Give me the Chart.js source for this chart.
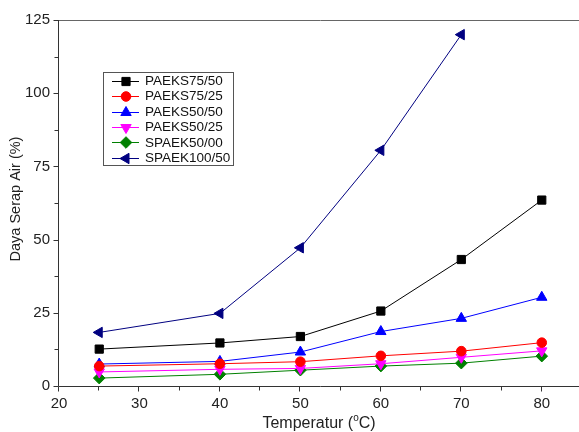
<!DOCTYPE html>
<html>
<head>
<meta charset="utf-8">
<script src="https://cdn.jsdelivr.net/npm/chart.js@4/dist/chart.umd.min.js"></script>
<style>
html,body{margin:0;padding:0;background:#fff;overflow:hidden;}
#wrap{width:582px;height:432px;}
</style>
</head>
<body>
<div id="wrap"><canvas id="c" width="582" height="432"></canvas></div>
<script>
// ---- data ----
const temperatures = [25, 40, 50, 60, 70, 80];
const paeks7550  = [12.6, 14.7, 16.9, 25.6, 43.2, 63.5];
const paeks7525  = [6.8, 7.6, 8.3, 10.3, 11.9, 14.8];
const paeks5050  = [7.5, 8.4, 11.6, 18.6, 23.1, 30.3];
const paeks5025  = [4.8, 5.7, 6.0, 7.6, 9.8, 12.0];
const spaek5000  = [2.7, 4.0, 5.4, 6.8, 7.8, 10.2];
const spaek10050 = [18.3, 24.8, 47.2, 80.5, 120.0];
const seriesNames = ['PAEKS75/50','PAEKS75/25','PAEKS50/50','PAEKS50/25','SPAEK50/00','SPAEK100/50'];
const xTitle = 'Temperatur (';
const xTitleSup = 'o';
const xTitleEnd = 'C)';
const yTitle = 'Daya Serap Air (%)';

const FONT = '"Liberation Sans", Arial, sans-serif';

function pts(vals){ return vals.map((v,i)=>({x: temperatures[i], y: v})); }

const styles = [
  {color:'#000000', line:'#000000', ps:'rect', rot:0, r:5.8},
  {color:'#ff0000', line:'#ff0000', ps:'circle', rot:0, r:4.8},
  {color:'#0000ff', line:'#0000ff', ps:'triangle', rot:0, r:6},
  {color:'#ff00ff', line:'#ff00ff', ps:'triangle', rot:180, r:6},
  {color:'#008000', line:'#008000', ps:'rectRot', rot:0, r:5.8},
  {color:'#000080', line:'#000080', ps:'triangle', rot:-90, r:6}
];
const allVals = [paeks7550, paeks7525, paeks5050, paeks5025, spaek5000, spaek10050];

const datasets = allVals.map((vals,i)=>({
  label: seriesNames[i],
  data: pts(vals),
  borderColor: styles[i].line,
  backgroundColor: styles[i].color,
  borderWidth: 1,
  pointStyle: styles[i].ps,
  pointRotation: styles[i].rot,
  pointRadius: styles[i].r,
  pointBorderColor: styles[i].color,
  pointBackgroundColor: styles[i].color,
  pointBorderWidth: 1,
  tension: 0,
  fill: false,
  clip: false
}));

const customDraw = {
  id: 'customDraw',
  afterDraw(chart){
    const ctx = chart.ctx;
    const ca = chart.chartArea;
    const xs = chart.scales.x, ys = chart.scales.y;
    ctx.save();
    // top border
    ctx.strokeStyle = '#666';
    ctx.lineWidth = 1;
    ctx.beginPath();
    ctx.moveTo(ca.left, Math.round(ca.top)+0.5);
    ctx.lineTo(chart.width, Math.round(ca.top)+0.5);
    ctx.stroke();
    // axes
    ctx.strokeStyle = '#333';
    ctx.beginPath();
    const bx = Math.round(ca.bottom)+0.5;
    ctx.moveTo(ca.left, bx); ctx.lineTo(chart.width, bx);
    const lx = Math.round(ca.left)-0.5;
    ctx.moveTo(lx, ca.top); ctx.lineTo(lx, ca.bottom+0.5);
    // x ticks
    for (let v = 20; v <= 85; v += 5) {
      const px = Math.round(xs.getPixelForValue(v)) - 0.5;
      const len = (v % 10 === 0) ? 5 : 4;
      ctx.moveTo(px, bx); ctx.lineTo(px, bx + len);
    }
    // y ticks
    for (let v = 0; v <= 125; v += 12.5) {
      const py = Math.round(ys.getPixelForValue(v)) + 0.5;
      const len = (v % 25 === 0) ? 5 : 4;
      ctx.moveTo(lx, py); ctx.lineTo(lx - len, py);
    }
    ctx.stroke();

    // axis titles
    ctx.fillStyle = '#222';
    ctx.textBaseline = 'alphabetic';
    ctx.font = '16px ' + FONT;
    const w1 = ctx.measureText(xTitle).width;
    const w3 = ctx.measureText(xTitleEnd).width;
    ctx.font = '10px ' + FONT;
    const w2 = ctx.measureText(xTitleSup).width;
    const total = w1 + w2 + w3;
    let sx = (ca.left + 579) / 2 - total / 2;
    const by = 428;
    ctx.textAlign = 'left';
    ctx.font = '16px ' + FONT;
    ctx.fillText(xTitle, sx, by);
    ctx.font = '10px ' + FONT;
    ctx.fillText(xTitleSup, sx + w1, by - 7);
    ctx.font = '16px ' + FONT;
    ctx.fillText(xTitleEnd, sx + w1 + w2, by);

    ctx.save();
    ctx.translate(20, (ca.top + ca.bottom) / 2 - 4);
    ctx.rotate(-Math.PI / 2);
    ctx.font = '14.5px ' + FONT;
    ctx.textAlign = 'center';
    ctx.fillText(yTitle, 0, 0);
    ctx.restore();

    // legend box
    const L = 103.5, T = 72.5, R = 233.5, B = 165.5;
    ctx.strokeStyle = '#555';
    ctx.lineWidth = 1;
    ctx.strokeRect(L, T, R - L, B - T);
    chart.data.datasets.forEach((ds, i) => {
      const y = 80.7 + i * 15.4;
      ctx.strokeStyle = ds.borderColor;
      ctx.lineWidth = 1;
      ctx.beginPath();
      ctx.moveTo(112, Math.round(y) + 0.5);
      ctx.lineTo(139, Math.round(y) + 0.5);
      ctx.stroke();
      ctx.fillStyle = ds.pointBackgroundColor;
      ctx.strokeStyle = ds.pointBorderColor;
      if (Chart.helpers && Chart.helpers.drawPoint) {
        Chart.helpers.drawPoint(ctx, {pointStyle: ds.pointStyle, rotation: ds.pointRotation, radius: ds.pointRadius, borderWidth: 1}, 126, Math.round(y) + 0.5);
      }
      ctx.fillStyle = '#111';
      ctx.font = '13.5px ' + FONT;
      ctx.textAlign = 'left';
      ctx.textBaseline = 'middle';
      ctx.fillText(ds.label, 145, y + 0.5);
    });
    ctx.restore();
  }
};

new Chart(document.getElementById('c'), {
  type: 'line',
  data: { datasets },
  options: {
    responsive: false,
    animation: false,
    devicePixelRatio: 1,
    layout: { autoPadding: false, padding: { top: 20, left: 0, right: 0, bottom: 0 } },
    plugins: { legend: { display: false }, tooltip: { enabled: false } },
    scales: {
      x: {
        type: 'linear',
        min: 20, max: 85,
        border: { display: false },
        grid: { display: false, drawTicks: false },
        ticks: {
          stepSize: 5,
          autoSkip: false,
          maxRotation: 0,
          padding: 9,
          color: '#222',
          font: { family: FONT, size: 15 },
          callback: (v) => (v % 10 === 0 && v <= 80) ? String(v) : ''
        },
        afterFit: (s) => { s.height = 46; s.paddingLeft = 0; s.paddingRight = 0; }
      },
      y: {
        type: 'linear',
        min: 0, max: 125,
        border: { display: false },
        grid: { display: false, drawTicks: false },
        ticks: {
          stepSize: 12.5,
          autoSkip: false,
          padding: 9,
          color: '#222',
          font: { family: FONT, size: 15 },
          callback: (v) => (v % 25 === 0) ? String(v) : ''
        },
        afterFit: (s) => { s.width = 59; s.paddingTop = 0; s.paddingBottom = 0; }
      }
    }
  },
  plugins: [customDraw]
});
</script>
</body>
</html>
